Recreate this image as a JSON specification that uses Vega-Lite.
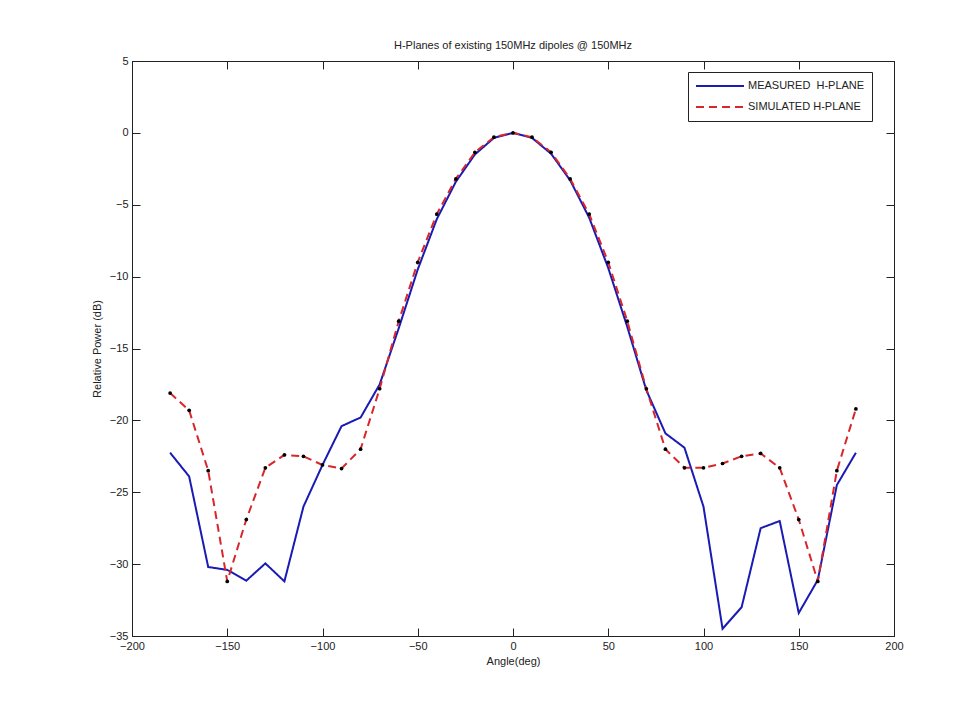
{
  "$schema": "https://vega.github.io/schema/vega-lite/v6.json",
  "width": 762,
  "height": 575,
  "autosize": {"type": "none"},
  "padding": {"left": 132, "top": 61, "right": 85, "bottom": 74},
  "background": "white",
  "config": {
    "font": "Liberation Sans",
    "view": {"stroke": "#222", "strokeWidth": 1},
    "axis": {"labelFont": "Liberation Sans", "titleFont": "Liberation Sans", "labelFontSize": 11, "titleFontSize": 11, "titleFontWeight": "normal", "labelColor": "#222", "titleColor": "#222", "domainColor": "#222", "tickColor": "#222", "grid": false}
  },
  "title": {"text": "H-Planes of existing 150MHz dipoles @ 150MHz", "fontSize": 11, "fontWeight": "normal", "font": "Liberation Sans", "color": "#222", "offset": 4},
  "data": {"values": [
    {"angle": -180, "power": -22.25, "series": "MEASURED\u00a0 H-PLANE"},
    {"angle": -170, "power": -23.9, "series": "MEASURED\u00a0 H-PLANE"},
    {"angle": -160, "power": -30.2, "series": "MEASURED\u00a0 H-PLANE"},
    {"angle": -150, "power": -30.4, "series": "MEASURED\u00a0 H-PLANE"},
    {"angle": -140, "power": -31.15, "series": "MEASURED\u00a0 H-PLANE"},
    {"angle": -130, "power": -29.95, "series": "MEASURED\u00a0 H-PLANE"},
    {"angle": -120, "power": -31.2, "series": "MEASURED\u00a0 H-PLANE"},
    {"angle": -110, "power": -26.0, "series": "MEASURED\u00a0 H-PLANE"},
    {"angle": -100, "power": -23.1, "series": "MEASURED\u00a0 H-PLANE"},
    {"angle": -90, "power": -20.4, "series": "MEASURED\u00a0 H-PLANE"},
    {"angle": -80, "power": -19.8, "series": "MEASURED\u00a0 H-PLANE"},
    {"angle": -70, "power": -17.5, "series": "MEASURED\u00a0 H-PLANE"},
    {"angle": -60, "power": -13.6, "series": "MEASURED\u00a0 H-PLANE"},
    {"angle": -50, "power": -9.5, "series": "MEASURED\u00a0 H-PLANE"},
    {"angle": -40, "power": -6.0, "series": "MEASURED\u00a0 H-PLANE"},
    {"angle": -30, "power": -3.4, "series": "MEASURED\u00a0 H-PLANE"},
    {"angle": -20, "power": -1.5, "series": "MEASURED\u00a0 H-PLANE"},
    {"angle": -10, "power": -0.35, "series": "MEASURED\u00a0 H-PLANE"},
    {"angle": 0, "power": 0, "series": "MEASURED\u00a0 H-PLANE"},
    {"angle": 10, "power": -0.35, "series": "MEASURED\u00a0 H-PLANE"},
    {"angle": 20, "power": -1.45, "series": "MEASURED\u00a0 H-PLANE"},
    {"angle": 30, "power": -3.3, "series": "MEASURED\u00a0 H-PLANE"},
    {"angle": 40, "power": -5.9, "series": "MEASURED\u00a0 H-PLANE"},
    {"angle": 50, "power": -9.4, "series": "MEASURED\u00a0 H-PLANE"},
    {"angle": 60, "power": -13.5, "series": "MEASURED\u00a0 H-PLANE"},
    {"angle": 70, "power": -17.9, "series": "MEASURED\u00a0 H-PLANE"},
    {"angle": 80, "power": -20.9, "series": "MEASURED\u00a0 H-PLANE"},
    {"angle": 90, "power": -21.9, "series": "MEASURED\u00a0 H-PLANE"},
    {"angle": 100, "power": -26.0, "series": "MEASURED\u00a0 H-PLANE"},
    {"angle": 110, "power": -34.5, "series": "MEASURED\u00a0 H-PLANE"},
    {"angle": 120, "power": -33.0, "series": "MEASURED\u00a0 H-PLANE"},
    {"angle": 130, "power": -27.5, "series": "MEASURED\u00a0 H-PLANE"},
    {"angle": 140, "power": -27.0, "series": "MEASURED\u00a0 H-PLANE"},
    {"angle": 150, "power": -33.4, "series": "MEASURED\u00a0 H-PLANE"},
    {"angle": 160, "power": -31.1, "series": "MEASURED\u00a0 H-PLANE"},
    {"angle": 170, "power": -24.5, "series": "MEASURED\u00a0 H-PLANE"},
    {"angle": 180, "power": -22.25, "series": "MEASURED\u00a0 H-PLANE"},
    {"angle": -180, "power": -18.1, "series": "SIMULATED H-PLANE"},
    {"angle": -170, "power": -19.3, "series": "SIMULATED H-PLANE"},
    {"angle": -160, "power": -23.5, "series": "SIMULATED H-PLANE"},
    {"angle": -150, "power": -31.2, "series": "SIMULATED H-PLANE"},
    {"angle": -140, "power": -26.9, "series": "SIMULATED H-PLANE"},
    {"angle": -130, "power": -23.3, "series": "SIMULATED H-PLANE"},
    {"angle": -120, "power": -22.4, "series": "SIMULATED H-PLANE"},
    {"angle": -110, "power": -22.5, "series": "SIMULATED H-PLANE"},
    {"angle": -100, "power": -23.1, "series": "SIMULATED H-PLANE"},
    {"angle": -90, "power": -23.35, "series": "SIMULATED H-PLANE"},
    {"angle": -80, "power": -22.0, "series": "SIMULATED H-PLANE"},
    {"angle": -70, "power": -17.8, "series": "SIMULATED H-PLANE"},
    {"angle": -60, "power": -13.1, "series": "SIMULATED H-PLANE"},
    {"angle": -50, "power": -9.0, "series": "SIMULATED H-PLANE"},
    {"angle": -40, "power": -5.65, "series": "SIMULATED H-PLANE"},
    {"angle": -30, "power": -3.2, "series": "SIMULATED H-PLANE"},
    {"angle": -20, "power": -1.35, "series": "SIMULATED H-PLANE"},
    {"angle": -10, "power": -0.3, "series": "SIMULATED H-PLANE"},
    {"angle": 0, "power": 0, "series": "SIMULATED H-PLANE"},
    {"angle": 10, "power": -0.3, "series": "SIMULATED H-PLANE"},
    {"angle": 20, "power": -1.35, "series": "SIMULATED H-PLANE"},
    {"angle": 30, "power": -3.2, "series": "SIMULATED H-PLANE"},
    {"angle": 40, "power": -5.65, "series": "SIMULATED H-PLANE"},
    {"angle": 50, "power": -9.0, "series": "SIMULATED H-PLANE"},
    {"angle": 60, "power": -13.1, "series": "SIMULATED H-PLANE"},
    {"angle": 70, "power": -17.8, "series": "SIMULATED H-PLANE"},
    {"angle": 80, "power": -22.0, "series": "SIMULATED H-PLANE"},
    {"angle": 90, "power": -23.3, "series": "SIMULATED H-PLANE"},
    {"angle": 100, "power": -23.3, "series": "SIMULATED H-PLANE"},
    {"angle": 110, "power": -23.0, "series": "SIMULATED H-PLANE"},
    {"angle": 120, "power": -22.5, "series": "SIMULATED H-PLANE"},
    {"angle": 130, "power": -22.3, "series": "SIMULATED H-PLANE"},
    {"angle": 140, "power": -23.3, "series": "SIMULATED H-PLANE"},
    {"angle": 150, "power": -26.9, "series": "SIMULATED H-PLANE"},
    {"angle": 160, "power": -31.2, "series": "SIMULATED H-PLANE"},
    {"angle": 170, "power": -23.5, "series": "SIMULATED H-PLANE"},
    {"angle": 180, "power": -19.2, "series": "SIMULATED H-PLANE"}
  ]},
  "layer": [
    {
      "mark": {"type": "line", "strokeWidth": 2},
      "encoding": {
        "x": {"field": "angle", "type": "quantitative", "scale": {"domain": [-200, 200], "nice": false, "zero": false},
              "axis": {"orient": "bottom", "title": "Angle(deg)", "values": [-200, -150, -100, -50, 0, 50, 100, 150, 200], "tickSize": -8, "labelPadding": 12, "titlePadding": 4, "labelFlush": false}},
        "y": {"field": "power", "type": "quantitative", "scale": {"domain": [-35, 5], "nice": false, "zero": false},
              "axis": {"orient": "left", "title": "Relative Power (dB)", "values": [-35, -30, -25, -20, -15, -10, -5, 0, 5], "tickSize": -8, "labelPadding": 12, "titlePadding": 7, "labelFlush": false}},
        "color": {"field": "series", "type": "nominal",
                  "scale": {"domain": ["MEASURED\u00a0 H-PLANE", "SIMULATED H-PLANE"], "range": ["#1a1ab4", "#d8262a"]},
                  "legend": {"title": null, "orient": "none", "legendX": 556, "legendY": 11, "strokeColor": "#222", "fillColor": "white", "padding": 7, "symbolType": "stroke", "symbolSize": 2300, "symbolStrokeWidth": 2, "clipHeight": 14, "labelFontSize": 11, "labelFont": "Liberation Sans", "labelColor": "#222", "labelOffset": 3, "rowPadding": 7, "cornerRadius": 0}},
        "strokeDash": {"field": "series", "type": "nominal",
                  "scale": {"domain": ["MEASURED\u00a0 H-PLANE", "SIMULATED H-PLANE"], "range": [[1, 0], [8, 5]]}}
      }
    },
    {
      "transform": [{"filter": "datum.series === 'SIMULATED H-PLANE'"}],
      "mark": {"type": "circle", "color": "black", "size": 14, "opacity": 1},
      "encoding": {
        "x": {"field": "angle", "type": "quantitative", "axis": {"orient": "top", "title": null, "labels": false, "values": [-200, -150, -100, -50, 0, 50, 100, 150, 200], "tickSize": -8, "domain": true}},
        "y": {"field": "power", "type": "quantitative", "axis": {"orient": "right", "title": null, "labels": false, "values": [-35, -30, -25, -20, -15, -10, -5, 0, 5], "tickSize": -8, "domain": true}}
      }
    }
  ],
  "resolve": {"axis": {"x": "independent", "y": "independent"}}
}
